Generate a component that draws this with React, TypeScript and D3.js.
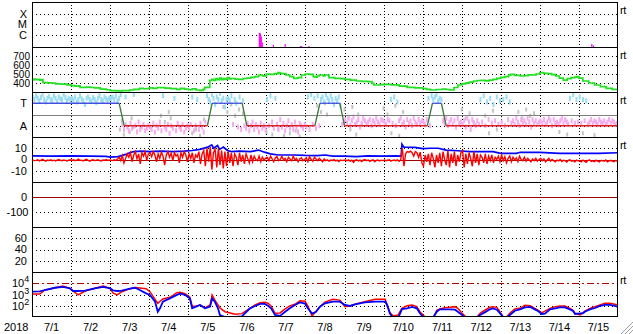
import React from "react";
import * as d3 from "d3";

// ---------- layout constants ----------
const W = 633;
const H = 334;
const X0 = 32;
const X1 = 618;
const PANEL_TOPS = [2, 47, 92, 137, 182, 227, 272];
const PANEL_H = 45;
const FONT = "'Liberation Sans', Arial, sans-serif";

// ---------- data ----------
const yearLabel = "2018";
const dayLabels = ["7/1", "7/2", "7/3", "7/4", "7/5", "7/6", "7/7", "7/8", "7/9", "7/10", "7/11", "7/12", "7/13", "7/14", "7/15"];

// X-ray flux events (day offset, W/m2)
const xrayDays = [5.82, 5.845, 5.87, 5.895, 6.18, 6.48, 6.87, 6.9, 7.09, 14.33, 14.37];
const xrayFlux = [1.5e-6, 1.45e-6, 7e-7, 2e-7, 1.2e-7, 1.4e-7, 9e-8, 9e-8, 9e-8, 1.4e-7, 1e-7];
const xrayTicks = [
  { label: "X", v: 1e-4 },
  { label: "M", v: 1e-5 },
  { label: "C", v: 1e-6 },
];

// Solar wind speed (day offset, km/s)
const speedData: [number, number][] = [
  [0, 435], [0.05, 442], [0.1, 436], [0.15, 440], [0.2, 432], [0.25, 438], [0.28, 405], [0.4, 402], [0.5, 400],
  [0.6, 390], [0.75, 388], [0.9, 380], [1.0, 370], [1.1, 365], [1.2, 368], [1.23, 352], [1.4, 354], [1.5, 350],
  [1.6, 346], [1.75, 333], [1.9, 325], [2.0, 315], [2.15, 313], [2.3, 316], [2.5, 322], [2.6, 330], [2.75, 341],
  [2.85, 336], [3.0, 345], [3.1, 340], [3.2, 350], [3.3, 348], [3.4, 342], [3.55, 338], [3.7, 330], [3.8, 340],
  [3.9, 332], [4.0, 325], [4.1, 334], [4.2, 322], [4.3, 318], [4.38, 330], [4.42, 352], [4.5, 350], [4.55, 430],
  [4.6, 440], [4.65, 428], [4.7, 450], [4.75, 436], [4.8, 455], [4.85, 438], [4.9, 448], [4.95, 440], [5.0, 460],
  [5.05, 445], [5.1, 450], [5.2, 444], [5.3, 441], [5.4, 450], [5.5, 455], [5.6, 463], [5.7, 470], [5.8, 489],
  [5.9, 480], [6.0, 500], [6.1, 495], [6.2, 505], [6.3, 515], [6.35, 508], [6.4, 505], [6.5, 489], [6.6, 470],
  [6.7, 452], [6.8, 460], [6.9, 489], [7.0, 500], [7.1, 495], [7.2, 470], [7.25, 465], [7.3, 478], [7.35, 489],
  [7.45, 480], [7.5, 489], [7.6, 460], [7.75, 452], [7.9, 448], [8.0, 441], [8.15, 432], [8.3, 422], [8.45, 418],
  [8.6, 415], [8.7, 396], [8.75, 378], [8.9, 382], [9.0, 385], [9.2, 380], [9.4, 366], [9.6, 352], [9.8, 345],
  [10.0, 337], [10.1, 330], [10.2, 322], [10.35, 328], [10.5, 333], [10.6, 328], [10.7, 322], [10.8, 350],
  [10.9, 378], [11.0, 390], [11.1, 402], [11.2, 410], [11.3, 422], [11.4, 428], [11.5, 430], [11.6, 424],
  [11.7, 433], [11.8, 440], [11.9, 452], [12.0, 463], [12.1, 470], [12.2, 488], [12.25, 496], [12.35, 485],
  [12.5, 478], [12.6, 482], [12.7, 490], [12.8, 489], [12.9, 500], [13.0, 515], [13.1, 508], [13.2, 505],
  [13.3, 492], [13.4, 478], [13.5, 455], [13.6, 433], [13.7, 448], [13.8, 459], [13.9, 465], [13.95, 470],
  [14.0, 455], [14.1, 422], [14.25, 400], [14.4, 378], [14.55, 360], [14.7, 341], [14.85, 330], [15.0, 322],
];
const speedTicks = [700, 600, 500, 400];

// IMF phi angle, hourly (degrees)
const phiHourly = [
  320, 300, 330, 310, 290, 315, 340, 300, 280, 310, 325, 300, 295, 330, 310, 285, 320, 305, 300, 340, 315, 290, 310, 300,
  310, 295, 320, 280, 300, 330, 305, 290, 260, 310, 320, 300, 285, 315, 300, 275, 310, 330, 300, 290, 320, 305, 295, 310,
  310, 320, 300, 330, 290, 310, 340, 100, 60, 320, 80, 50, 110, 70, 340, 90, 40, 120, 60, 80, 100, 50, 70, 90,
  80, 60, 110, 40, 90, 70, 120, 50, 330, 80, 60, 100, 30, 90, 70, 310, 50, 110, 80, 60, 100, 40, 70, 90,
  70, 100, 320, 50, 90, 300, 60, 110, 80, 40, 120, 330, 300, 280, 340, 310, 260, 320, 300, 350, 290, 310, 240, 300,
  310, 290, 330, 100, 300, 270, 80, 320, 60, 290, 90, 70, 110, 50, 90, 120, 60, 100, 80, 40, 110, 70, 90, 60,
  300, 90, 330, 120, 70, 310, 100, 60, 140, 80, 110, 50, 90, 130, 70, 100, 60, 120, 80, 40, 110, 90, 70, 100,
  80, 320, 60, 340, 100, 310, 70, 330, 90, 300, 320, 280, 340, 310, 290, 330, 300, 260, 310, 290, 320, 250, 100, 120,
  140, 110, 150, 90, 130, 160, 100, 120, 140, 80, 110, 150, 130, 100, 120, 140, 90, 130, 110, 150, 120, 100, 140, 130,
  120, 100, 140, 130, 300, 110, 320, 90, 280, 130, 150, 100, 120, 80, 140, 110, 130, 90, 150, 120, 100, 140, 110, 130,
  120, 100, 140, 310, 90, 330, 300, 320, 340, 290, 310, 300, 130, 110, 150, 90, 120, 140, 100, 130, 80, 150, 110, 120,
  100, 130, 80, 150, 120, 60, 140, 110, 90, 130, 100, 300, 120, 330, 90, 280, 140, 310, 110, 260, 130, 320, 100, 290,
  120, 300, 90, 320, 140, 280, 110, 130, 100, 150, 120, 90, 140, 110, 130, 100, 150, 120, 80, 140, 110, 130, 100, 120,
  130, 110, 140, 100, 120, 150, 130, 90, 140, 110, 120, 100, 130, 150, 110, 140, 120, 100, 310, 130, 340, 110, 300, 120,
  320, 110, 300, 130, 290, 100, 120, 140, 110, 130, 120, 100, 140, 120, 110, 130, 100, 120, 140, 110, 130, 120, 100, 110,
];
// secondary phi source (gray)
const phiGray: [number, number][] = [
  [2.25, 60], [2.3, 130], [2.35, 20], [2.4, 100], [2.5, 40], [2.55, 150], [2.6, 80],
  [3.3, 170], [3.4, 120], [3.5, 200], [3.55, 150],
  [4.0, 90], [4.1, 30], [4.2, 60], [4.3, 10], [4.4, 140],
  [4.9, 240], [5.0, 200], [5.1, 260], [5.2, 170], [5.3, 220], [5.4, 190],
  [6.0, 40], [6.15, 20], [6.3, 60], [6.45, 10], [6.6, 30], [6.75, 50], [6.85, 5],
  [7.3, 250], [7.4, 200], [7.5, 270], [7.55, 180],
  [8.0, 220], [8.1, 150], [8.15, 60], [8.2, 240], [8.3, 20], [8.35, 180], [8.45, 100],
  [9.0, 230], [9.1, 180], [9.2, 30], [9.3, 250], [9.4, 10], [9.5, 200],
  [11.0, 220], [11.1, 150], [11.2, 190], [11.3, 120],
  [11.6, 170], [11.7, 30], [11.8, 210], [11.9, 60],
  [12.45, 200], [12.55, 150], [12.65, 220], [12.75, 170], [12.85, 190],
  [13.5, 40], [13.7, 20], [14.1, 30], [14.4, 15],
];
// sector boundary line (day, phi level)
const sectorData: [number, number][] = [
  [0, 270], [2.23, 270], [2.36, 90], [4.49, 90], [4.61, 270], [5.38, 270], [5.5, 90], [7.24, 90], [7.37, 270],
  [7.88, 270], [8.0, 90], [10.12, 90], [10.25, 270], [10.48, 270], [10.6, 90], [15, 90],
];
const phiTicks = [
  { label: "T", v: 270 },
  { label: "A", v: 90 },
];

// IMF Bt (day, nT)
const btData: [number, number][] = [
  [0, 3.2], [0.5, 3], [1.0, 3.3], [1.5, 3], [1.9, 2.8], [2.0, 2.2], [2.2, 2.5], [2.4, 4.5], [2.5, 6], [2.6, 7],
  [2.8, 7.5], [3.0, 7], [3.3, 7.5], [3.6, 7], [3.9, 7.5], [4.1, 8], [4.3, 9], [4.5, 11], [4.6, 13], [4.65, 10],
  [4.75, 12.5], [4.8, 9], [4.9, 11], [5.0, 8], [5.1, 7], [5.3, 7.5], [5.6, 7], [5.8, 8.4], [5.95, 6.5], [6.1, 5],
  [6.3, 4], [6.7, 4], [7.0, 3.6], [7.3, 3.5], [7.5, 4], [7.7, 3], [8.0, 3], [8.3, 2.5], [8.6, 3.2], [9.0, 3],
  [9.3, 3.3], [9.45, 3], [9.47, 13.5], [9.52, 11], [9.8, 10.8], [10.0, 9.6], [10.2, 10], [10.4, 10], [10.6, 8.4],
  [10.9, 7.8], [11.2, 7], [11.8, 7], [12.0, 5.5], [12.4, 5.5], [12.5, 6.4], [13.0, 6.4], [13.5, 5.5], [14.0, 5.5],
  [14.5, 5.5], [15, 6],
];
// IMF Bz, hourly (nT)
const bzValues = [
  -0.5, -1, -0.8, -0.3, -1.2, -0.6, 0.2, -0.8, -1.5, -0.4, -0.9, -0.2, -1, -0.6, -1.3, -0.5, 0, -0.7, -1.1, -0.4, -0.8, -1.4, -0.6, -0.3,
  -0.7, -0.2, -1, -0.5, 0.3, -0.9, -0.6, -1.2, -0.4, 0.1, -0.8, -1.5, -0.5, -0.3, -1, -0.6, -0.2, -0.9, -1.3, -0.4, -0.7, -0.1, -0.8, -0.5,
  -0.6, -1, -0.3, -0.8, 0.5, 2, -1, 3.5, -3, 1, 5, 2, 6, -2, 4, 7, 0.5, 5, -4, 6, 3, 7, -1, 5,
  6, 2.5, 7, 4, -2, 5, 1, 6.5, 3, -5, 4, 7, 2, 5.5, -1, 6, 3, 4.5, -3, 6, 2, 7, 4, -2,
  5, 1, 6, -3, 4, 2, 7, -4, 5, 8, -6, 10, -2, 11, -9, 6, 9, -7, 10, -5, 8, -8, 7, -6,
  7, -3, 6, -6, 5, 2, -5, 6, -2, 4, -4, 5, 1, -3, 4, -2, 3, 0, -1, 3, -2, 2, -0.5, 1,
  2, -1, 3, 0.5, -2, 1.5, 2.5, -1, 0, 3, -0.5, 1, -2, 2, 0.5, -1, 3, -0.5, 1, -2, 0.5, 1.5, -1, 0,
  1.5, -2, 2.5, 0, -1.5, 2, 0.5, -1, 1, -0.5, -2, 0.5, -1, -0.3, -1.5, -0.5, -0.8, 0, -1.2, -0.6, -1.8, -0.4, -1, -0.7,
  -0.5, -1, -0.3, -1.5, -0.6, -2.5, -0.8, -0.2, -1.2, -0.5, -1.8, -0.6, 0, -1, -0.4, -1.6, -0.7, -0.3, -2, -0.9, -0.5, -1.3, -0.6, -1,
  -0.4, -1.1, -0.6, -0.2, -1.4, -0.8, -0.5, -1, -0.3, -1.6, -0.6, 10, -6, 5, 7, 6.5, 7.5, 6, 3, 7, 6, 2, 6.5, -3,
  -6, 4, -2, 5, -5, 6, 1, -7, 4, -3, 6, -6, 7, 0, -5, 8, -7, 5, -3, 7, -6, 4, -2, 6,
  8, -7, 5, -4, 6, 1, -6, 7, -3, 5, -5, 4, 2, -3, 5, -4, 3, -1, 4, -3, 2, 0, 3, -2,
  4, -1, 2.5, -3, 1, 3, -2, 2, -0.5, 1.5, -2, 3, 0, -1, 2, -1.5, 1, -0.5, -2, 0.5, -1, 1, -1.5, 0,
  1, -1, 0.5, -2, -0.5, 1, -1.5, 0, -1, -2, -0.5, -1.2, 0, -1.8, -0.6, -1, -2.2, -0.8, -0.3, -1.5, -1, -2, -0.6, -1.2,
  -1, -2, -0.5, -1.5, -2.5, -1, -0.3, -1.8, -1.2, -2, -0.6, -1.4, -2.2, -0.8, -1, -1.6, -0.4, -2, -1.2, -0.7, -1.5, -2, -0.9, -1.3,
];
const bTicks = [10, 0, -10];

const dstTicks = [0, -100];
const kpTicks = [60, 40, 20];

// electron flux, log10 (day, blue source, red source)
const elecDays = [
  0, 0.2, 0.33, 0.59, 0.79, 0.97, 1.05, 1.18, 1.36, 1.61, 1.82, 2.0, 2.07, 2.18, 2.3, 2.51, 2.64, 2.76, 2.92, 3.02,
  3.15, 3.22, 3.28, 3.35, 3.53, 3.71, 3.79, 3.92, 4.04, 4.1, 4.2, 4.3, 4.43, 4.56, 4.61, 4.68, 4.76, 4.81, 4.94,
  5.2, 5.37, 5.45, 5.58, 5.71, 5.84, 5.96, 6.04, 6.12, 6.22, 6.35, 6.48, 6.6, 6.73, 6.86, 6.99, 7.06, 7.17, 7.27,
  7.37, 7.5, 7.7, 7.88, 8.01, 8.14, 8.27, 8.52, 8.78, 9.04, 9.09, 9.16, 9.24, 9.37, 9.47, 9.6, 9.73, 9.85, 9.93,
  10.01, 10.14, 10.26, 10.36, 10.44, 10.57, 10.7, 10.83, 10.9, 11.01, 11.11, 11.26, 11.39, 11.47, 11.59, 11.72,
  11.8, 11.9, 11.98, 12.06, 12.16, 12.23, 12.36, 12.49, 12.62, 12.75, 12.87, 12.95, 13.05, 13.13, 13.26, 13.39,
  13.51, 13.64, 13.77, 13.85, 13.9, 14.03, 14.1, 14.15, 14.28, 14.41, 14.54, 14.67, 14.79, 14.92, 15,
];
const elecBlue = [
  3.25, 3.28, 3.4, 3.6, 3.67, 3.55, 3.31, 3.31, 3.34, 3.55, 3.67, 3.55, 3.37, 3.31, 3.34, 3.52, 3.6, 3.4, 3.1, 2.96,
  2.36, 1.47, 1.8, 2.36, 2.66, 2.96, 3.07, 2.96, 2.66, 1.77, 1.92, 2.07, 1.77, 1.92, 2.66, 2.36, 1.77, 1.18, 1.0,
  1.0, 1.05, 1.33, 1.77, 1.98, 2.16, 2.16, 2.0, 1.77, 1.18, 1.1, 1.47, 1.77, 2.07, 2.3, 2.2, 1.77, 1.3, 1.47,
  1.92, 2.22, 2.36, 2.36, 2.07, 1.98, 2.13, 2.3, 2.36, 2.36, 2.07, 1.33, 0.9, 0.9, 1.7, 1.77, 1.9, 1.77, 1.33,
  1.0, 0.8, 0.9, 1.47, 1.68, 1.68, 1.68, 1.65, 1.47, 1.18, 0.9, 0.8, 0.9, 1.18, 1.41, 1.68,
  1.77, 1.65, 1.33, 1.0, 0.95, 1.18, 1.56, 1.68, 1.86, 1.9, 1.68, 1.53, 1.27, 1.3, 1.68, 1.77,
  1.86, 1.86, 1.68, 1.53, 1.27, 1.33, 1.33, 1.47, 1.68, 1.8, 1.98, 2.07, 2.07, 1.98, 1.9,
];
const elecRed = [
  3.04, 3.04, 3.4, 3.6, 3.76, 3.55, 3.31, 2.96, 3.31, 3.55, 3.76, 3.55, 3.13, 2.96, 3.25, 3.52, 3.62, 3.58, 3.52, 3.25,
  2.57, 2.22, 2.4, 2.6, 2.75, 3.16, 3.2, 3.07, 2.75, 1.98, 1.95, 2.07, 1.8, 2.07, 2.96, 2.5, 2.07, 1.8, 1.47,
  1.25, 1.3, 1.47, 1.77, 2.07, 2.27, 2.3, 2.22, 1.98, 1.33, 1.36, 1.72, 1.98, 2.13, 2.45, 2.4, 1.98, 1.09, 1.5,
  1.92, 2.33, 2.57, 2.5, 1.92, 1.98, 2.13, 2.36, 2.57, 2.57, 2.07, 1.4, 1.1, 1.18, 1.77, 2.0, 2.07, 1.92, 1.47,
  1.18, 0.7, 0.8, 1.6, 1.72, 1.83, 1.86, 1.92, 1.77, 1.33, 1.0, 1.0, 1.0, 1.33, 1.6, 1.86,
  1.92, 1.86, 1.45, 1.0, 1.05, 1.33, 1.72, 1.77, 2.04, 2.0, 1.77, 1.6, 1.36, 1.53, 1.77, 1.92,
  1.98, 1.98, 1.77, 1.6, 1.33, 1.18, 1.36, 1.53, 1.77, 1.92, 2.07, 2.22, 2.22, 2.13, 2.07,
];
const elecThreshold = 1e4;
const elecTicks = [
  { base: "10", exp: "4", v: 1e4 },
  { base: "10", exp: "3", v: 1e3 },
  { base: "10", exp: "2", v: 1e2 },
];

// ---------- component ----------
export default function App() {
  const x = d3.scaleLinear().domain([0, 15]).range([X0, X1]);
  const yX = d3.scaleLog().domain([Math.pow(10, -7.13), Math.pow(10, -2.905)]).range([47, 2]);
  const ySpd = d3.scaleLinear().domain([300, 800]).range([92, 47]);
  const yPhi = d3.scaleLinear().domain([0, 360]).range([137, 92]);
  const yB = d3.scaleLinear().domain([-20, 20]).range([182, 137]);
  const yDst = d3.scaleLinear().domain([-200, 100]).range([227, 182]);
  const yKp = d3.scaleLinear().domain([0, 80]).range([272, 227]);
  const yE = d3.scaleLog().domain([10, 1e5]).range([317, 272]);

  const px = (v: number) => Math.round(v) + 0.5;

  const speedLine = d3.line<[number, number]>().x((d) => x(d[0])).y((d) => ySpd(d[1])).curve(d3.curveStepAfter);
  const btLine = d3.line<[number, number]>().x((d) => x(d[0])).y((d) => yB(d[1]));
  const bzLine = d3.line<number>().x((_, i) => x((i + 0.5) / 24)).y((d) => yB(d));
  const eLine = (vals: number[]) =>
    d3.line<number>().x((_, i) => x(elecDays[i])).y((d) => yE(Math.pow(10, d)))(vals) || "";

  const dotted = (y: number, key: string) => (
    <line key={key} x1={X0} x2={X1} y1={px(y)} y2={px(y)} stroke="#000" strokeDasharray="1,3" shapeRendering="crispEdges" />
  );
  const solid = (y: number, color: string, key: string, dash?: string) => (
    <line key={key} x1={X0} x2={X1} y1={px(y)} y2={px(y)} stroke={color} strokeDasharray={dash} shapeRendering="crispEdges" />
  );
  const label = (text: React.ReactNode, xx: number, y: number, key: string, size = 11) => (
    <text key={key} x={xx} y={y + size * 0.36} fontSize={size} fontFamily={FONT} textAnchor="end" fill="#000">
      {text}
    </text>
  );
  const rt = (i: number) => (
    <text key={"rt" + i} x={620} y={PANEL_TOPS[i] + 11.5} fontSize={11} fontFamily={FONT} fill="#000" letterSpacing={-0.5}>
      rt
    </text>
  );

  // sector segments colored by type
  const sectorSegs = sectorData.slice(1).map((d, i) => {
    const p = sectorData[i];
    const color = p[1] !== d[1] ? "#3c7a3c" : d[1] > 180 ? "#4050e0" : "#e02020";
    return <line key={"sec" + i} x1={x(p[0])} y1={yPhi(p[1])} x2={x(d[0])} y2={yPhi(d[1])} stroke={color} strokeWidth={1.3} />;
  });

  return (
    <svg width={W} height={H} style={{ position: "fixed", left: 0, top: 0, background: "#fff" }}>
      <defs>
        {PANEL_TOPS.map((t, i) => (
          <clipPath id={"clip" + i} key={i}>
            <rect x={X0} y={t} width={X1 - X0} height={PANEL_H} />
          </clipPath>
        ))}
      </defs>
      <rect x={0} y={0} width={W} height={H} fill="#fff" />

      {/* vertical day grid */}
      {d3.range(1, 15).map((d) => (
        <line key={"vg" + d} x1={px(x(d))} x2={px(x(d))} y1={2} y2={317} stroke="#000" strokeDasharray="1,2" shapeRendering="crispEdges" />
      ))}

      {/* panel 1: X-ray */}
      {xrayTicks.map((t) => dotted(yX(t.v), "xg" + t.label))}
      {xrayTicks.map((t) => label(t.label, 27, yX(t.v), "xl" + t.label))}
      <g clipPath="url(#clip0)">
        {xrayDays.map((d, i) => (
          <line key={"xr" + i} x1={x(d)} x2={x(d)} y1={47} y2={yX(xrayFlux[i])} stroke="#ff00ff" strokeWidth={1.2} />
        ))}
      </g>

      {/* panel 2: speed */}
      {speedTicks.map((t) => dotted(ySpd(t), "sg" + t))}
      {speedTicks.map((t) => label(String(t), 30, ySpd(t), "sl" + t, 10))}
      <g clipPath="url(#clip1)">
        <path d={speedLine(speedData) || ""} fill="none" stroke="#22e022" strokeWidth={1.7} />
      </g>

      {/* panel 3: phi / sector */}
      {phiTicks.map((t) => dotted(yPhi(t.v), "pg" + t.label))}
      {phiTicks.map((t) => label(t.label, 27, yPhi(t.v), "pl" + t.label))}
      <g clipPath="url(#clip2)">
        {phiGray.map((d, i) => (
          <rect key={"pgr" + i} x={x(d[0]) - 1} y={yPhi(d[1]) - 2} width={2} height={4} fill="#c4c4c4" />
        ))}
        {phiHourly.map((v, i) => (
          <rect
            key={"ph" + i}
            x={x((i + 0.5) / 24) - 1}
            y={yPhi(v) - 2.5}
            width={2}
            height={5}
            fill={v > 180 ? "#98dcf5" : "#f6aaf0"}
          />
        ))}
        {solid(yPhi(180), "#808080", "phimid")}
        {sectorSegs}
      </g>

      {/* panel 4: Bt / Bz */}
      {bTicks.filter((t) => t !== 0).map((t) => dotted(yB(t), "bg" + t))}
      {bTicks.map((t) => label(String(t), 27, yB(t), "bl" + t))}
      <g clipPath="url(#clip3)">
        {solid(yB(0), "#a00000", "bzero")}
        <path d={btLine(btData) || ""} fill="none" stroke="#0000ff" strokeWidth={1.7} />
        <path d={bzLine(bzValues) || ""} fill="none" stroke="#ff0000" strokeWidth={1.4} />
      </g>

      {/* panel 5: Dst */}
      {dotted(yDst(-100), "dg")}
      {solid(yDst(0), "#a00000", "dzero")}
      {dstTicks.map((t) => label(String(t), t === 0 ? 27 : 28.5, yDst(t), "dl" + t))}

      {/* panel 6: Kp-like */}
      {kpTicks.map((t) => dotted(yKp(t), "kg" + t))}
      {kpTicks.map((t) => label(String(t), 27, yKp(t), "kl" + t))}

      {/* panel 7: electrons */}
      {elecTicks.slice(1).map((t) => dotted(yE(t.v), "eg" + t.exp))}
      {solid(yE(elecThreshold), "#b00000", "ethr", "7,3,2,3")}
      {elecTicks.map((t) => (
        <text key={"el" + t.exp} x={12} y={yE(t.v) + 4} fontSize={11} fontFamily={FONT} fill="#000">
          {t.base}
          <tspan dy={-5} fontSize={9}>
            {t.exp}
          </tspan>
        </text>
      ))}
      <g clipPath="url(#clip6)">
        <path d={eLine(elecRed)} fill="none" stroke="#ff0000" strokeWidth={1.5} />
        <path d={eLine(elecBlue)} fill="none" stroke="#0000ff" strokeWidth={1.8} />
      </g>

      {/* frames */}
      <rect x={X0 + 0.5} y={2.5} width={X1 - X0 - 1} height={315 - 1} fill="none" stroke="#000" shapeRendering="crispEdges" />
      {PANEL_TOPS.slice(1).map((t) => (
        <line key={"sep" + t} x1={X0} x2={X1} y1={t + 0.5} y2={t + 0.5} stroke="#000" shapeRendering="crispEdges" />
      ))}

      {/* right labels */}
      {[0, 1, 2, 3, 6].map((i) => rt(i))}

      {/* x axis labels */}
      <text x={4} y={331} fontSize={11} fontFamily={FONT} fill="#000">
        {yearLabel}
      </text>
      {dayLabels.map((l, i) => (
        <text key={"dl" + i} x={x(i + 0.5)} y={331} fontSize={11} fontFamily={FONT} textAnchor="middle" fill="#000">
          {l}
        </text>
      ))}

      {/* resize grip */}
      {[4, 8, 12].map((k) => (
        <line key={"grip" + k} x1={W - k} y1={H} x2={W} y2={H - k} stroke="#a0a0a0" strokeWidth={1} />
      ))}
    </svg>
  );
}
